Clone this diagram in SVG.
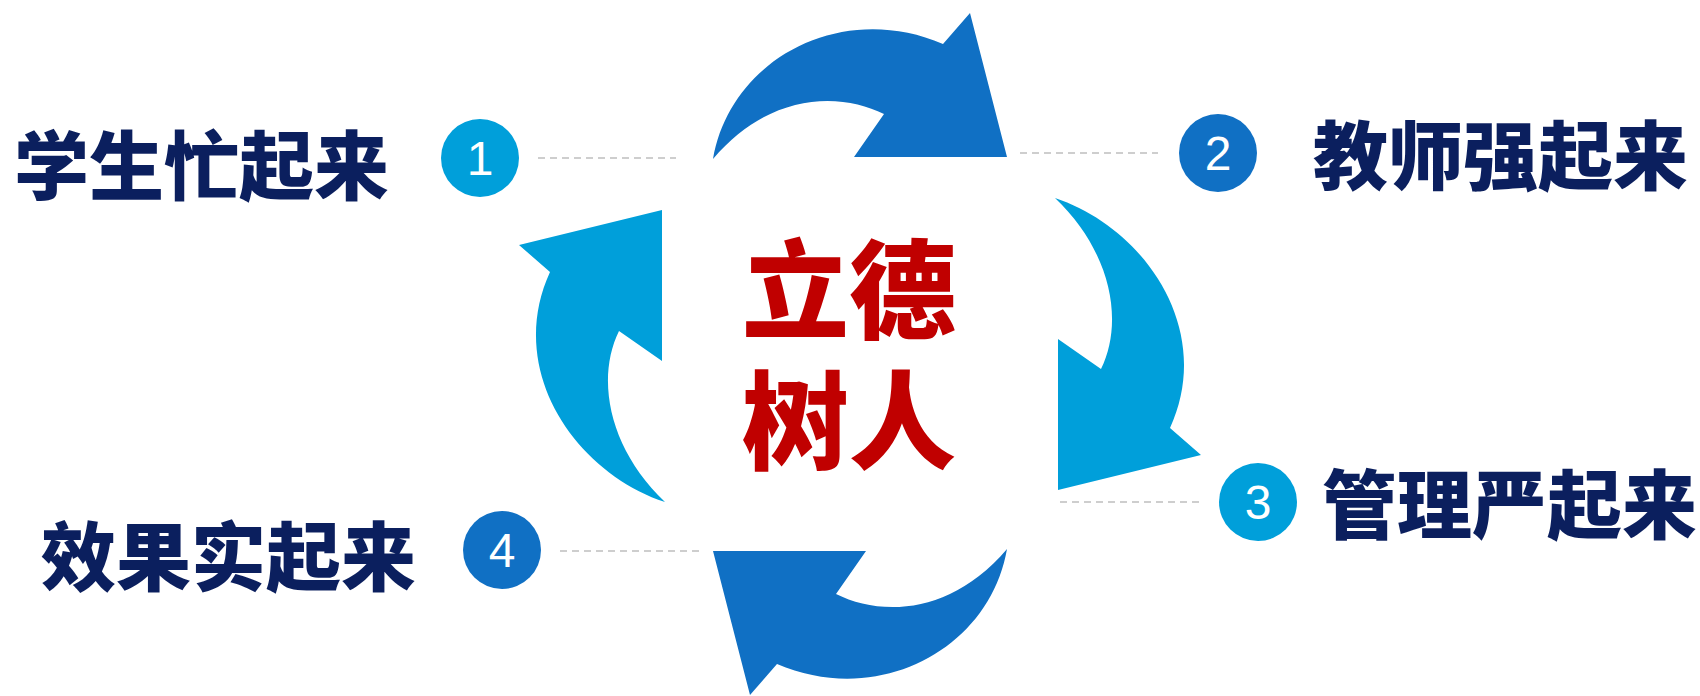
<svg xmlns="http://www.w3.org/2000/svg" width="1700" height="696" viewBox="0 0 1700 696">
  <style>
    .dark { fill: #1070C4; }
    .light { fill: #009FDA; }
    .label { font-family: "Noto Sans CJK SC", "Noto Sans", sans-serif; font-weight: 900; font-size: 75px; fill: #0B1F5E; dominant-baseline: central; }
    .center { font-family: "Noto Sans CJK SC", "Noto Sans", sans-serif; font-weight: 900; font-size: 107px; fill: #C00000; text-anchor: middle; dominant-baseline: central; }
    .num { font-family: "Liberation Sans", Arial, sans-serif; font-size: 48px; fill: #FFFFFF; text-anchor: middle; dominant-baseline: central; }
    .dash { stroke: #BFBFBF; stroke-width: 1.5; stroke-dasharray: 7 5; fill: none; }
  </style>
  <defs>
    <path id="arrowTop" d="M 713,159 C 730,60 840,0 943,44 L 970,13 L 1007,157 L 854,157 L 884,114 C 840,92 770,92 713,159 Z"/>
    <path id="arrowRight" d="M 1055,198 C 1145,228 1215,330 1170,428 L 1201,455 L 1058,490 L 1058,339 L 1101,369 C 1125,320 1110,250 1055,198 Z"/>
  </defs>
  <rect width="1700" height="696" fill="#FFFFFF"/>

  <g id="connectors">
    <line class="dash" x1="538" y1="158" x2="676" y2="158"/>
    <line class="dash" x1="1020" y1="153" x2="1158" y2="153"/>
    <line class="dash" x1="1060" y1="502" x2="1199" y2="502"/>
    <line class="dash" x1="560" y1="551" x2="699" y2="551"/>
  </g>

  <g id="arrow-top"><use href="#arrowTop" class="dark"/></g>
  <g id="arrow-right"><use href="#arrowRight" class="light"/></g>
  <g id="arrow-bottom"><use href="#arrowTop" class="dark" transform="rotate(180 860 354)"/></g>
  <g id="arrow-left"><use href="#arrowRight" class="light" transform="rotate(180 860 350)"/></g>

  <g id="center-text">
    <text class="center"><tspan x="849" y="283">立德</tspan><tspan x="849" y="414">树人</tspan></text>
  </g>

  <g id="node-1">
    <circle cx="480" cy="158" r="39" class="light"/>
    <text class="num" x="480" y="158">1</text>
    <text class="label" x="14" y="161">学生忙起来</text>
  </g>
  <g id="node-2">
    <circle cx="1218" cy="153" r="39" class="dark"/>
    <text class="num" x="1218" y="153">2</text>
    <text class="label" x="1313" y="151">教师强起来</text>
  </g>
  <g id="node-3">
    <circle cx="1258" cy="502" r="39" class="light"/>
    <text class="num" x="1258" y="502">3</text>
    <text class="label" x="1322" y="500">管理严起来</text>
  </g>
  <g id="node-4">
    <circle cx="502" cy="550" r="39" class="dark"/>
    <text class="num" x="502" y="550">4</text>
    <text class="label" x="41" y="552">效果实起来</text>
  </g>
</svg>
